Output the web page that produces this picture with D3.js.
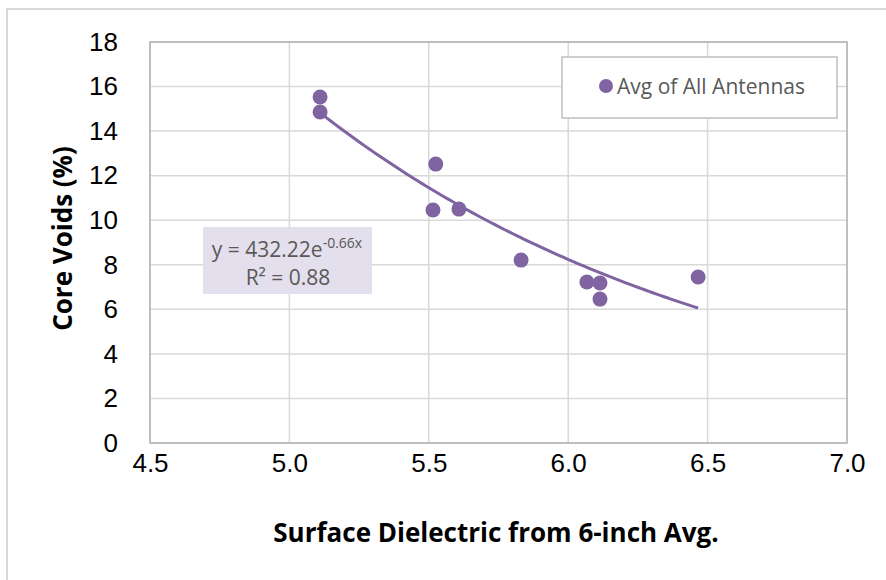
<!DOCTYPE html>
<html><head><meta charset="utf-8">
<script src="https://cdn.jsdelivr.net/npm/d3@7"></script>
<style>body{margin:0;background:#fff}svg{display:block}</style>
</head><body>
<script>
const seriesName = "Avg of All Antennas";
const xValues = [5.11, 5.11, 5.525, 5.515, 5.608, 5.831, 6.067, 6.114, 6.114, 6.466];
const yValues = [15.53, 14.86, 12.52, 10.46, 10.50, 8.21, 7.23, 7.18, 6.46, 7.45];
const xTicks = [4.5, 5.0, 5.5, 6.0, 6.5, 7.0];
const yTicks = [0, 2, 4, 6, 8, 10, 12, 14, 16, 18];
const trendA = 432.22, trendB = -0.66;
const xTitle = "Surface Dielectric from 6-inch Avg.";
const yTitle = "Core Voids (%)";

const W = 886, H = 580;
const purple = "#8064a2";
const svg = d3.select("body").append("svg").attr("width", W).attr("height", H);

// outer chart frame
svg.append("rect").attr("x", 7).attr("y", 9).attr("width", W + 10).attr("height", H + 10)
  .attr("fill", "#fff").attr("stroke", "#d9d9d9").attr("stroke-width", 2);

const x = d3.scaleLinear().domain([4.5, 7.0]).range([150, 847]);
const y = d3.scaleLinear().domain([0, 18]).range([443, 42]);

// gridlines
svg.append("g").selectAll("line.h").data(yTicks).join("line")
  .attr("x1", x(4.5)).attr("x2", x(7.0)).attr("y1", d => y(d)).attr("y2", d => y(d))
  .attr("stroke", "#d9d9d9").attr("stroke-width", 1.5);
svg.append("g").selectAll("line.v").data(xTicks).join("line")
  .attr("y1", y(0)).attr("y2", y(18)).attr("x1", d => x(d)).attr("x2", d => x(d))
  .attr("stroke", "#d9d9d9").attr("stroke-width", 1.5);

// plot border
svg.append("rect").attr("x", x(4.5)).attr("y", y(18)).attr("width", x(7) - x(4.5)).attr("height", y(0) - y(18))
  .attr("fill", "none").attr("stroke", "#b3b3b3").attr("stroke-width", 1.5);

// axes (labels only)
const yAxis = d3.axisLeft(y).tickValues(yTicks).tickFormat(d3.format("d")).tickSize(0).tickPadding(32);
const gy = svg.append("g").attr("transform", `translate(${x(4.5)},0)`).call(yAxis);
gy.select(".domain").remove();
gy.selectAll("text").attr("font-family", "'Liberation Sans', Arial, sans-serif").attr("font-size", 26).attr("fill", "#000");

const xAxis = d3.axisBottom(x).tickValues(xTicks).tickFormat(d3.format(".1f")).tickSize(0).tickPadding(11);
const gx = svg.append("g").attr("transform", `translate(0,${y(0)})`).call(xAxis);
gx.select(".domain").remove();
gx.selectAll("text").attr("font-family", "'Liberation Sans', Arial, sans-serif").attr("font-size", 26).attr("fill", "#000");

// axis titles
svg.append("text").attr("x", 496).attr("y", 542).attr("text-anchor", "middle")
  .attr("font-family", "'Open Sans', sans-serif").attr("font-weight", "bold").attr("font-size", 26)
  .attr("fill", "#000").text(xTitle);
svg.append("text").attr("transform", `translate(72,${(y(0) + y(18)) / 2 - 4}) rotate(-90)`).attr("text-anchor", "middle")
  .attr("font-family", "'Open Sans', sans-serif").attr("font-weight", "bold").attr("font-size", 26)
  .attr("fill", "#000").text(yTitle);

// trendline
const xMin = d3.min(xValues), xMax = d3.max(xValues);
const tr = d3.range(0, 101).map(i => { const xv = xMin + (xMax - xMin) * i / 100; return [xv, trendA * Math.exp(trendB * xv)]; });
svg.append("path").datum(tr).attr("fill", "none").attr("stroke", purple).attr("stroke-width", 3)
  .attr("d", d3.line().x(d => x(d[0])).y(d => y(d[1])));

// points
svg.append("g").selectAll("circle").data(xValues.map((v, i) => [v, yValues[i]])).join("circle")
  .attr("cx", d => x(d[0])).attr("cy", d => y(d[1])).attr("r", 7.5).attr("fill", purple);

// equation label
svg.append("rect").attr("x", 203).attr("y", 227).attr("width", 169).attr("height", 67).attr("fill", "#e4dfec");
const eq = svg.append("text").attr("x", 287).attr("y", 257).attr("text-anchor", "middle")
  .attr("font-family", "'Open Sans', sans-serif").attr("font-size", 21).attr("fill", "#595959");
eq.append("tspan").text("y = " + trendA.toFixed(2) + "e");
eq.append("tspan").attr("font-size", 14).attr("dy", -9).text(trendB.toFixed(2) + "x");
svg.append("text").attr("x", 288).attr("y", 285).attr("text-anchor", "middle")
  .attr("font-family", "'Open Sans', sans-serif").attr("font-size", 21).attr("fill", "#595959")
  .text("R² = 0.88");

// legend
svg.append("rect").attr("x", 562).attr("y", 57).attr("width", 275).attr("height", 61)
  .attr("fill", "#fff").attr("stroke", "#bfbfbf").attr("stroke-width", 1.5);
svg.append("circle").attr("cx", 606).attr("cy", 86).attr("r", 7).attr("fill", purple);
svg.append("text").attr("x", 617).attr("y", 94).attr("font-family", "'Open Sans', sans-serif")
  .attr("font-size", 21).attr("fill", "#595959").text(seriesName);
</script>
</body></html>
